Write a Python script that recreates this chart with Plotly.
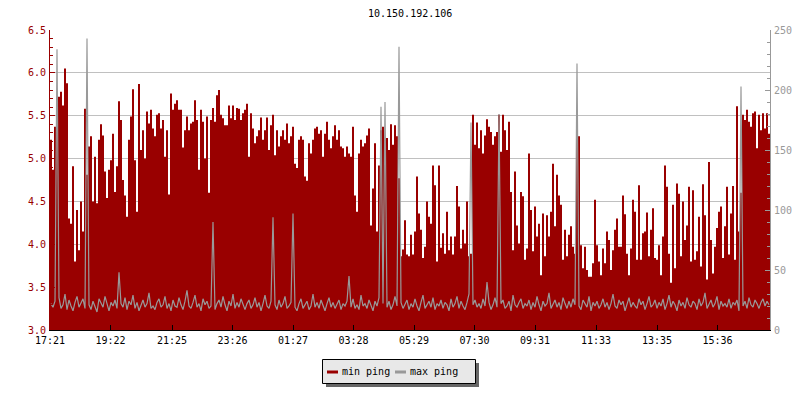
import plotly.graph_objects as go

TITLE = "10.150.192.106"
START_LABEL = "17:21"
TICK_LABELS = ["17:21", "19:22", "21:25", "23:26", "01:27", "03:28",
               "05:29", "07:30", "09:31", "11:33", "13:35", "15:36"]
LEFT_TICKS = [3.0, 3.5, 4.0, 4.5, 5.0, 5.5, 6.0, 6.5]
RIGHT_TICKS = [0, 50, 100, 150, 200, 250]
SERIES_NAMES = ["min ping", "max ping"]

# min ping (ms), left axis, 24 h read left to right (4-minute steps)
MIN_PING = [
    5.22, 4.87, 5.37, 5.49, 5.72, 5.78, 5.62, 6.05, 5.88, 4.30,
    4.24, 4.91, 3.80, 4.40, 3.93, 4.50, 4.15, 5.58, 4.81, 5.14,
    5.26, 4.50, 5.02, 4.48, 5.22, 5.40, 5.27, 4.85, 4.54, 4.87,
    4.98, 5.29, 4.61, 4.91, 5.67, 5.45, 4.75, 4.57, 4.32, 5.22,
    5.49, 5.81, 4.98, 4.38, 5.87, 5.10, 5.33, 5.00, 5.55, 5.41,
    5.57,
    5.35, 5.26, 5.51, 5.53, 5.35, 5.45, 5.02, 5.33, 4.58, 5.76,
    5.57, 5.64, 5.68, 5.57, 5.57, 5.13, 5.33, 5.49, 5.33, 5.41,
    5.43, 5.68, 5.45, 4.87, 5.57, 5.43, 5.00, 5.49, 4.60, 5.45,
    5.59, 5.43, 5.74, 5.80, 5.51, 5.47, 5.39, 5.39, 5.62, 5.47,
    5.62, 5.45, 5.59, 5.58, 5.45, 5.53, 5.57, 5.64, 5.02, 5.53,
    5.35, 5.18,
    5.26, 5.33, 5.48, 5.22, 5.33, 5.48, 5.10, 5.39, 5.51, 5.04,
    5.33, 5.14, 5.26, 5.33, 5.22, 5.41, 5.18, 5.26, 5.37, 4.94,
    4.89, 5.22, 5.26, 5.22, 4.79, 4.74, 5.18, 5.06, 5.22, 5.35,
    5.37, 5.29, 5.33, 5.02, 5.29, 5.43, 5.22, 5.12, 5.26, 5.39,
    5.22, 5.33, 5.14, 5.12, 5.02, 5.14, 5.06, 5.02, 5.37, 4.57,
    4.38,
    5.06, 5.22, 5.14, 5.18, 5.27, 5.35, 4.22, 4.65, 5.18, 4.15,
    4.92, 5.33, 5.37, 5.22, 5.24, 5.10, 5.40, 5.16, 5.39, 5.26,
    4.77, 3.86, 3.94, 4.28, 3.88, 3.86, 4.11, 3.88, 4.15, 4.79,
    4.36, 4.17, 3.84, 3.97, 4.50, 4.32, 4.24, 4.92, 4.69, 3.80,
    4.92, 3.96, 4.13, 3.89, 4.38, 3.93, 4.09, 3.88, 4.09, 4.68,
    4.44, 3.95,
    4.17, 4.01, 4.50, 3.86, 3.89, 5.51, 5.16, 5.42, 5.12, 5.33,
    5.06, 5.27, 5.46, 5.37, 5.31, 5.16, 5.26, 5.31, 5.51, 5.08,
    5.51, 5.33, 5.10, 5.43, 4.61, 3.93, 4.85, 4.22, 4.01, 4.61,
    4.56, 3.82, 3.95, 5.06, 4.40, 3.92, 4.44, 4.09, 4.24, 3.64,
    4.36, 3.86, 4.34, 4.09, 4.38, 4.94, 4.21, 4.81, 4.57, 4.46,
    3.82,
    4.17, 3.86, 4.11, 4.21, 3.97, 3.89, 5.29, 5.26, 3.99, 3.72,
    3.97, 3.70, 3.62, 3.62, 3.78, 4.52, 3.99, 3.80, 3.64, 3.95,
    3.78, 4.15, 4.05, 3.70, 3.93, 4.17, 4.30, 3.97, 3.97, 4.57,
    4.35, 3.89, 3.64, 3.95, 4.52, 4.38, 3.82, 4.69, 3.82, 4.13,
    4.15, 4.37, 3.86, 4.17, 4.42, 3.84, 3.82, 3.99, 3.64, 4.09,
    4.92, 4.67,
    3.89, 3.55, 4.46, 3.72, 4.71, 4.59, 3.86, 4.50, 4.05, 4.22,
    4.67, 3.80, 4.63, 3.82, 3.92, 4.32, 3.74, 4.70, 4.34, 3.59,
    4.96, 4.05, 3.66, 3.97, 4.19, 4.38, 4.44, 3.84, 4.21, 4.67,
    3.88, 4.36, 4.68, 3.82, 5.61, 4.15, 4.60, 5.51, 5.45, 5.57,
    5.43, 5.37, 5.53, 5.55, 5.12, 5.51, 5.33, 5.53, 5.35, 5.53,
    5.29,
]

# max ping (ms), right axis
MAX_PING = [
    22, 19, 24, 234, 27, 18, 21, 30, 17, 25, 20, 16, 23, 28, 19, 22, 26, 18, 243, 21,
    17, 24, 20, 15, 26, 22, 19, 28, 21, 16, 23, 20, 25, 18, 48, 22, 19, 27, 17, 24,
    21, 29, 18, 23, 16, 20, 25, 19, 22, 31, 18, 20, 17, 23, 26, 19, 21, 28, 18,
    22, 16, 25, 20, 19, 27, 21, 17, 24, 33, 20, 18, 23, 29, 19, 22, 16, 26, 21, 24,
    18, 20, 90, 17, 22, 25, 19, 28, 21, 16, 24, 20, 30, 18, 23, 19, 26, 21, 17, 22,
    25, 18, 21, 27, 19, 23, 16, 22, 29, 20, 18, 24, 94, 21, 17, 25, 19, 22, 28, 18,
    20, 23, 97, 19, 16, 22, 26, 18, 21, 24, 17, 20, 30, 19, 23, 18, 25, 21, 16, 22,
    27, 19, 23, 18, 21, 25, 17, 22, 20, 24, 45, 19, 26, 18, 21, 17, 29, 20, 22,
    18, 25, 21, 16, 24, 20, 27, 186, 22, 190, 19, 24, 17, 21, 28, 20, 236, 23, 18, 21,
    25, 17, 22, 19, 26, 20, 16, 23, 29, 18, 21, 24, 19, 27, 17, 22, 20, 25, 18, 23,
    21, 16, 26, 19, 22, 28, 18, 24, 20, 17, 23, 30, 173, 21, 25, 19, 22, 18, 26, 20,
    40, 23, 17, 21, 27, 19, 180, 22, 25, 18, 20, 24, 16, 29, 21, 19, 23, 26, 18, 22,
    20, 25, 17, 23, 19, 28, 21, 16, 24, 20, 22, 31, 18, 21, 25, 19, 23, 17, 27,
    22, 18, 24, 19, 26, 21, 222, 20, 17, 25, 22, 19, 28, 16, 23, 20, 24, 18, 21, 26,
    19, 23, 17, 22, 30, 20, 18, 25, 21, 24, 16, 22, 27, 19, 23, 20, 18, 26, 21, 24,
    17, 22, 28, 19, 21, 25, 18, 23, 20, 26, 17, 22, 29, 19, 24, 21, 16, 25, 20, 23,
    18, 27, 21, 19, 24, 22, 17, 26, 20, 23, 31, 18, 21, 25, 19, 22, 28, 17, 24, 20,
    22, 19, 26, 18, 23, 21, 25, 16, 203, 20, 24, 18, 27, 21, 19, 25, 22, 18, 23, 26,
    20, 24, 21,
]

SPAN_MIN = 1440.0
n = min(len(MIN_PING), len(MAX_PING))
step = SPAN_MIN / n
t = [i * step for i in range(n)] + [SPAN_MIN]
y_min = MIN_PING[:n] + [MIN_PING[n - 1]]
# max line drawn through the centre of each sample interval
t_line = [i * step + step / 2 for i in range(n)]
y_max = MAX_PING[:n]


def minutes_from_start(label):
    h, m = map(int, label.split(":"))
    sh, sm = map(int, START_LABEL.split(":"))
    return ((h * 60 + m) - (sh * 60 + sm)) % 1440


tickvals = [minutes_from_start(l) for l in TICK_LABELS]

RED = "#990000"
GRAY = "#999999"
FONT = "DejaVu Sans Mono"

fig = go.Figure()
fig.add_trace(go.Scatter(
    x=t, y=y_min, mode="lines", line=dict(color=RED, width=0, shape="hv"),
    fill="tozeroy", fillcolor=RED, showlegend=False, name=SERIES_NAMES[0],
    yaxis="y", hoverinfo="skip"))
fig.add_trace(go.Scatter(
    x=t_line, y=y_max, mode="lines", line=dict(color=GRAY, width=1.2, shape="linear"),
    showlegend=False, name=SERIES_NAMES[1], yaxis="y2", hoverinfo="skip"))

# page offset: the browser page has an 8px body margin
OFF = 8
W, H = 800, 400
PL, PT, PW, PH = 50, 30, 720, 300   # plot area in page pixels
ml = PL - OFF
mt = PT - OFF
mr = W - ml - PW
mb = H - mt - PH


def px_x(p):
    return (p - PL) / PW


def px_y(p):
    return (PT + PH - p) / PH


shapes = [
    # legend shadow
    dict(type="rect", xref="paper", yref="paper",
         x0=px_x(326), x1=px_x(479), y0=px_y(387), y1=px_y(363),
         fillcolor="#666666", line=dict(width=0), layer="above"),
    # legend box
    dict(type="rect", xref="paper", yref="paper",
         x0=px_x(322.5), x1=px_x(475.5), y0=px_y(383.5), y1=px_y(359.5),
         fillcolor="#e8e8e8", line=dict(color="black", width=1), layer="above"),
    # legend swatches
    dict(type="line", xref="paper", yref="paper",
         x0=px_x(327), x1=px_x(338), y0=px_y(372), y1=px_y(372),
         line=dict(color=RED, width=3), layer="above"),
    dict(type="line", xref="paper", yref="paper",
         x0=px_x(395), x1=px_x(406), y0=px_y(372), y1=px_y(372),
         line=dict(color=GRAY, width=3), layer="above"),
]

annotations = [
    dict(text=TITLE, xref="paper", yref="paper", x=0.5, y=px_y(13),
         xanchor="center", yanchor="middle", showarrow=False,
         font=dict(family=FONT, size=10, color="black")),
    dict(text=SERIES_NAMES[0], xref="paper", yref="paper", x=px_x(340), y=px_y(371),
         xanchor="left", yanchor="middle", showarrow=False,
         font=dict(family=FONT, size=10, color="black")),
    dict(text=SERIES_NAMES[1], xref="paper", yref="paper", x=px_x(408), y=px_y(371),
         xanchor="left", yanchor="middle", showarrow=False,
         font=dict(family=FONT, size=10, color="black")),
]

fig.update_layout(
    width=W, height=H,
    margin=dict(l=ml, r=mr, t=mt, b=mb, pad=0),
    paper_bgcolor="white", plot_bgcolor="white",
    font=dict(family=FONT, size=10, color="black"),
    showlegend=False,
    xaxis=dict(range=[0, SPAN_MIN], tickvals=tickvals, ticktext=TICK_LABELS,
               ticks="inside", ticklen=5, tickcolor="black", showline=True,
               linecolor="black", linewidth=1, showgrid=False, zeroline=False,
               ticklabelstandoff=1,
               tickfont=dict(family=FONT, size=10, color="black")),
    yaxis=dict(range=[3.0, 6.5], tickvals=LEFT_TICKS, tickformat=".1f",
               ticks="inside", ticklen=5, tickcolor=RED, showline=True,
               linecolor=RED, linewidth=1, showgrid=True, gridcolor="#c0c0c0",
               gridwidth=1, zeroline=False, ticklabelstandoff=1,
               tickfont=dict(family=FONT, size=10, color=RED),
               minor=dict(ticks="inside", dtick=0.1, ticklen=3, tickcolor=RED,
                          showgrid=False)),
    yaxis2=dict(range=[0, 250], tickvals=RIGHT_TICKS, overlaying="y",
                side="right", ticks="inside", ticklen=5, tickcolor=GRAY,
                showline=True, linecolor=GRAY, linewidth=1, showgrid=False,
                zeroline=False, ticklabelstandoff=1,
                tickfont=dict(family=FONT, size=10, color=GRAY),
                minor=dict(ticks="inside", dtick=10, ticklen=3, tickcolor=GRAY,
                           showgrid=False)),
    shapes=shapes,
    annotations=annotations,
)

fig.write_html("out.html")
